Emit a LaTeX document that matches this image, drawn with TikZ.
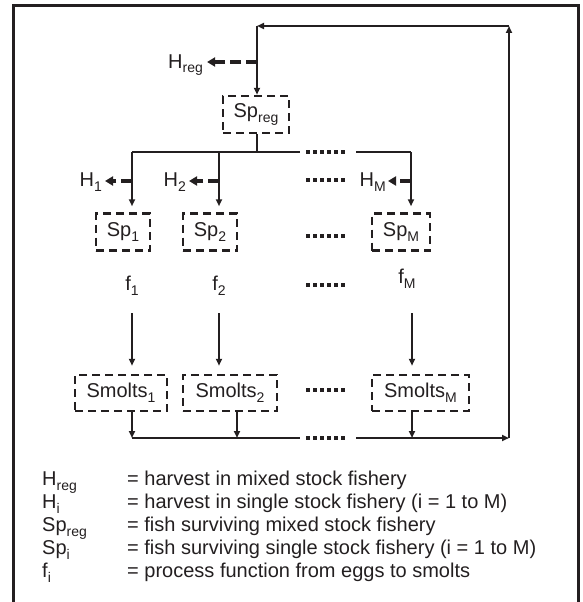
\documentclass[tikz,border=0pt]{standalone}
\usepackage{fontspec}
\setmainfont{Liberation Sans}
\usetikzlibrary{arrows.meta,positioning}
\definecolor{ink}{RGB}{35,31,32}
\newcommand{\lowidx}[1]{\raisebox{-5pt}{\fontsize{14}{14}\selectfont #1}}

\begin{document}
\begin{tikzpicture}[x=1pt, y=-1pt, font=\fontsize{20}{24}\selectfont, color=ink]

	% Define custom styles
	\tikzstyle{stockbox} = [rectangle, draw, dash pattern=on 8pt off 5pt, line width=2.5pt, minimum height=37pt, inner sep=0pt]
	\tikzstyle{lbl} = [inner sep=0pt]
	\tikzstyle{flow} = [line width=2.5pt, -{Triangle[length=7pt,width=6pt]}]
	\tikzstyle{harv} = [line width=3.5pt, dash pattern=on 11pt off 5pt, -{Triangle[length=8pt,width=9pt]}]
	\tikzstyle{more} = [line width=4pt, dash pattern=on 4pt off 3pt]

	\useasboundingbox (0,0) rectangle (583,602);

	% Outer frame
	\draw[line width=3pt] (13,606) -- (13,6) -- (578,6) -- (578,606);

	% Boxes
	\node[stockbox, minimum width=66pt] (spreg) at (256,114.5) {Sp\lowidx{reg}};
	\node[stockbox, minimum width=54pt] (sp1) at (123,232) {Sp\lowidx{1}};
	\node[stockbox, minimum width=54pt] (sp2) at (210,232) {Sp\lowidx{2}};
	\node[stockbox, minimum width=58pt] (spm) at (401,232) {Sp\lowidx{M}};
	\node[stockbox, minimum width=92pt, minimum height=36pt] (sm1) at (121,393) {Smolts\lowidx{1}};
	\node[stockbox, minimum width=94pt, minimum height=36pt] (sm2) at (230,393) {Smolts\lowidx{2}};
	\node[stockbox, minimum width=97pt, minimum height=36pt] (smm) at (420.5,393) {Smolts\lowidx{M}};

	% Labels
	\node[lbl, anchor=base west] (hreg) at (168,68) {H\lowidx{reg}};
	\node[lbl, anchor=base east] (h1) at (102,186) {H\lowidx{1}};
	\node[lbl, anchor=base east] (h2) at (186,186) {H\lowidx{2}};
	\node[lbl, anchor=base east] (hm) at (386,186) {H\lowidx{M}};
	\node[lbl, anchor=base] (f1) at (132,290) {f\lowidx{1}};
	\node[lbl, anchor=base] (f2) at (219,290) {f\lowidx{2}};
	\node[lbl, anchor=base] (fm) at (407,283) {f\lowidx{M}};

	% Junction points
	\coordinate (c1) at (132,152);
	\coordinate (c2) at (219,152);
	\coordinate (cm) at (411,152);
	\coordinate (topgapl) at (300,152);
	\coordinate (topgapr) at (356,152);
	\coordinate (b1) at (132,438);
	\coordinate (b2) at (237,438);
	\coordinate (bm) at (412,438);
	\coordinate (botgapl) at (300,438);
	\coordinate (botgapr) at (356,438);
	\coordinate (loopbr) at (509,438);
	\coordinate (looptr) at (509,26);
	\coordinate (looptl) at (257,26);
	\coordinate (jreg) at (257,62);
	\coordinate (j1) at (132,181);
	\coordinate (j2) at (219,181);
	\coordinate (jm) at (411,181);
	\coordinate (d1) at (132,313);
	\coordinate (d2) at (219,313);
	\coordinate (dm) at (412,313);

	% Return loop into the mixed stock
	\draw[flow] (looptr) -- (looptl);
	\draw[flow] (looptl) -- (looptl |- spreg.north);
	\draw[harv] (jreg) -- (jreg -| hreg.east) [shorten >=4pt];

	% Split to single stocks
	\draw[line width=1.2pt] (spreg.south -| looptl) -- (looptl |- c1);
	\draw[line width=1.8pt] (c1) -- (topgapl);
	\draw[line width=1.8pt] (topgapr) -- (cm);
	\draw[flow, shorten >=6pt] (c1) -- (c1 |- sp1.north);
	\draw[flow, shorten >=6pt] (c2) -- (c2 |- sp2.north);
	\draw[flow, shorten >=6pt] (cm) -- (cm |- spm.north);
	\draw[harv, shorten >=3pt] (j1) -- (j1 -| h1.east);
	\draw[harv, shorten >=3pt] (j2) -- (j2 -| h2.east);
	\draw[harv, shorten >=2pt] (jm) -- (jm -| hm.east);

	% Eggs to smolts
	\draw[flow, shorten >=8pt] (d1) -- (d1 |- sm1.north);
	\draw[flow, shorten >=8pt] (d2) -- (d2 |- sm2.north);
	\draw[flow, shorten >=8pt] (dm) -- (dm |- smm.north);

	% Smolts collected and sent back
	\draw[flow] (b1 |- sm1.south) -- (b1);
	\draw[flow] (b2 |- sm2.south) -- (b2);
	\draw[flow] (bm |- smm.south) -- (bm);
	\draw[line width=2.5pt] (b1) -- (botgapl);
	\draw[flow] (botgapr) -- (loopbr);
	\draw[flow] (loopbr) -- (looptr);

	% Dotted fillers
	\foreach \y in {152,180,236,285,390,438}
		\draw[more] (306,\y) -- (345,\y);

	% Legend
	\node[lbl, anchor=base west] (khreg) at (42,485) {H\lowidx{reg}};
	\node[lbl, anchor=base west] (threg) at (127,485) {= harvest in mixed stock fishery};
	\node[lbl, anchor=base west] (khi) at (42,508) {H\lowidx{i}};
	\node[lbl, anchor=base west] (thi) at (127,508) {= harvest in single stock fishery (i = 1 to M)};
	\node[lbl, anchor=base west] (kspreg) at (42,531) {Sp\lowidx{reg}};
	\node[lbl, anchor=base west] (tspreg) at (127,531) {= fish surviving mixed stock fishery};
	\node[lbl, anchor=base west] (kspi) at (42,554) {Sp\lowidx{i}};
	\node[lbl, anchor=base west] (tspi) at (127,554) {= fish surviving single stock fishery (i = 1 to M)};
	\node[lbl, anchor=base west] (kfi) at (42,577) {f\lowidx{i}};
	\node[lbl, anchor=base west] (tfi) at (127,577) {= process function from eggs to smolts};

\end{tikzpicture}
\end{document}
